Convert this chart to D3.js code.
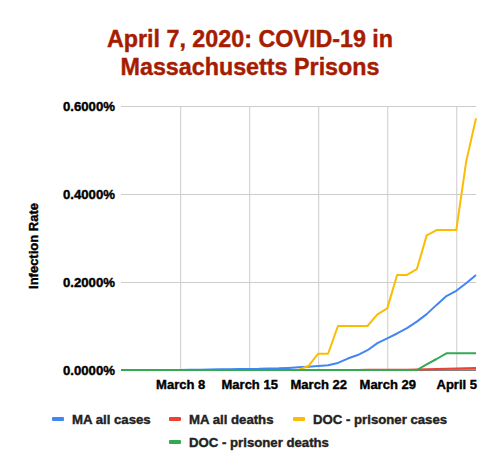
<!DOCTYPE html>
<html><head><meta charset="utf-8">
<script src="https://cdn.jsdelivr.net/npm/d3@7"></script>
<style>body{margin:0;background:#fff}svg{display:block}</style>
</head><body>
<svg id="c" width="500" height="474"></svg>
<script>
const days = d3.range(0, 37).map(i => new Date(2020, 2, 2 + i)); // March 2 .. April 7
const maCases = [0,0,0,0,0.0001,0.0001,0.0002,0.0006,0.0006,0.0014,0.0016,0.0018,0.0020,0.0025,0.0027,0.0034,0.0037,0.0047,0.006,0.0076,0.009,0.0106,0.016,0.026,0.034,0.045,0.061,0.072,0.083,0.095,0.110,0.127,0.148,0.168,0.180,0.197,0.216];
const maDeaths = [0,0,0,0,0,0,0,0,0,0,0,0,0,0,0,0,0,0,0,0.00001,0.00001,0.00007,0.0001,0.0001,0.0002,0.0003,0.0005,0.0006,0.0008,0.0008,0.0013,0.0017,0.0022,0.0029,0.0032,0.0037,0.0045];
const docCases = [0,0,0,0,0,0,0,0,0,0,0,0,0,0,0,0,0,0,0,0.009,0.037,0.037,0.100,0.100,0.100,0.100,0.1265,0.140,0.216,0.216,0.229,0.306,0.318,0.318,0.318,0.473,0.572];
const docDeaths = [0,0,0,0,0,0,0,0,0,0,0,0,0,0,0,0,0,0,0,0,0,0,0,0,0,0,0,0,0,0,0,0.013,0.025,0.038,0.038,0.038,0.038];
const seriesNames = ["MA all cases","MA all deaths","DOC - prisoner cases","DOC - prisoner deaths"];
const seriesColors = ["#4285f4","#ea4335","#fbbc04","#34a853"];
const yTicks = [0, 0.2, 0.4, 0.6];
const xTickDates = [new Date(2020,2,8), new Date(2020,2,15), new Date(2020,2,22), new Date(2020,2,29), new Date(2020,3,5)];
const xTickLabels = ["March 8","March 15","March 22","March 29","April 5"];
const titleLines = ["April 7, 2020: COVID-19 in","Massachusetts Prisons"];

const svg = d3.select("#c");
const font = "'Liberation Sans', Arial, sans-serif";
const x = d3.scaleTime().domain([days[0], days[days.length-1]]).range([121, 476]);
const y = d3.scaleLinear().domain([0, 0.6]).range([370, 106]);

function boldText(sel, size, color) {
  sel.attr("font-family",font).attr("font-weight","bold").attr("font-size",size)
    .attr("fill",color).attr("stroke",color).attr("stroke-width",0.4).attr("paint-order","stroke");
}

// title
svg.append("g").selectAll("text").data(titleLines).join("text")
  .attr("x", 250).attr("y", (d,i) => 47 + i*28)
  .attr("text-anchor","middle").text(d => d).call(boldText, 23.3, "#a61c00");

// gridlines
const yAxis = d3.axisLeft(y).tickValues(yTicks).tickSize(-(476-121)).tickFormat(d => d.toFixed(4) + "%").tickPadding(6);
const gy = svg.append("g").attr("transform","translate(121,0)").call(yAxis);
gy.select(".domain").remove();
gy.selectAll(".tick line").attr("stroke","#cccccc");
gy.selectAll(".tick text").call(boldText, 13.2, "#000");

const xAxis = d3.axisBottom(x).tickValues(xTickDates).tickSize(-(370-106)).tickFormat((d,i) => xTickLabels[i]).tickPadding(10);
const gx = svg.append("g").attr("transform","translate(0,370)").call(xAxis);
gx.select(".domain").remove();
gx.selectAll(".tick line").attr("stroke","#cccccc");
gx.selectAll(".tick text").call(boldText, 13, "#000");

// baseline
svg.append("line").attr("x1",121).attr("x2",476).attr("y1",y(0)).attr("y2",y(0)).attr("stroke","#333").attr("stroke-width",1);

// y-axis title
svg.append("text").attr("transform","translate(38,246) rotate(-90)")
  .attr("text-anchor","middle").text("Infection Rate").call(boldText, 13, "#000");

// lines
const allSeries = [maCases, maDeaths, docCases, docDeaths];
const line = d3.line().x((d,i) => x(days[i])).y(d => y(d));
svg.append("g").selectAll("path").data(allSeries).join("path")
  .attr("d", d => line(d)).attr("fill","none")
  .attr("stroke",(d,i) => seriesColors[i]).attr("stroke-width",2).attr("stroke-linejoin","round");

// legend
const legendPos = [[52,419],[169,419],[293,419],[169,442]];
const lg = svg.append("g").selectAll("g").data(seriesNames).join("g")
  .attr("transform",(d,i) => `translate(${legendPos[i][0]},${legendPos[i][1]})`);
lg.append("rect").attr("x",0).attr("y",-2).attr("width",12).attr("height",4).attr("rx",1).attr("fill",(d,i) => seriesColors[i]);
lg.append("text").attr("x",20).attr("y",4.5).text(d => d).call(boldText, 13.2, "#222");
</script>
</body></html>
